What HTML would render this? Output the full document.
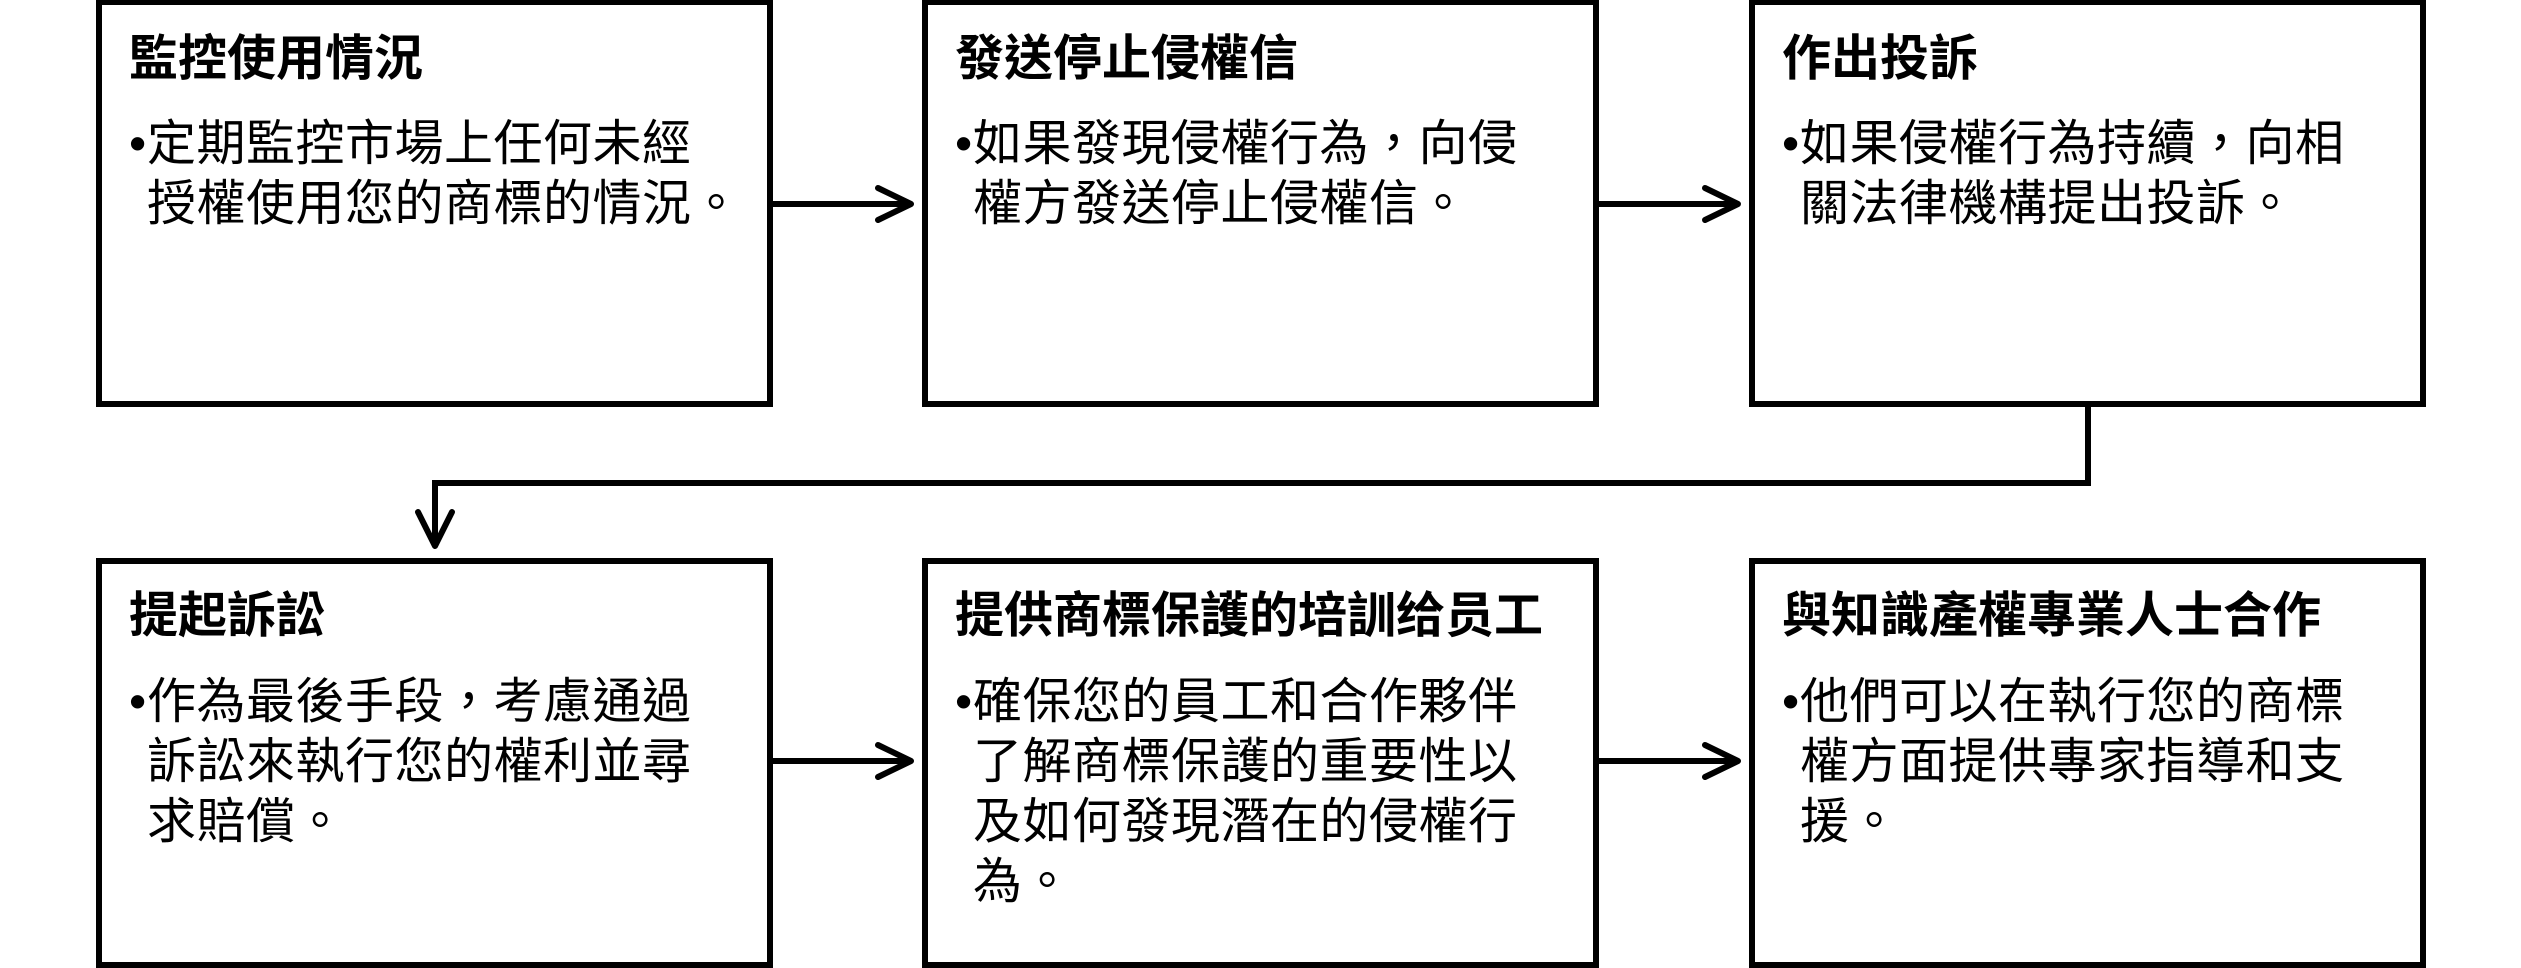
<!DOCTYPE html>
<html><head><meta charset="utf-8"><style>
body{margin:0;width:2521px;height:966px;background:#fff;position:relative;overflow:hidden;font-family:"Liberation Sans","Noto Sans CJK TC",sans-serif;color:#000}
.b{position:absolute;box-sizing:border-box;border:6px solid #000;width:677px}
.t{position:absolute;font-size:49px;line-height:60px;font-weight:bold;white-space:nowrap}
.p{position:absolute;font-size:49px;line-height:60px;white-space:nowrap;letter-spacing:0.5px}
.p span{display:inline-block;width:18px}
svg{position:absolute;left:0;top:0}
</style></head><body>
<div class="b" style="left:96px;top:-1px;height:408px"></div>
<div class="b" style="left:922px;top:-1px;height:408px"></div>
<div class="b" style="left:1749px;top:-1px;height:408px"></div>
<div class="b" style="left:96px;top:558px;height:410px"></div>
<div class="b" style="left:922px;top:558px;height:410px"></div>
<div class="b" style="left:1749px;top:558px;height:410px"></div>

<div class="t" style="left:129px;top:29px">監控使用情況</div>
<div class="p" style="left:129px;top:114px"><span>•</span>定期監控市場上任何未經<br><span></span>授權使用您的商標的情況。</div>
<div class="t" style="left:955px;top:29px">發送停止侵權信</div>
<div class="p" style="left:955px;top:114px"><span>•</span>如果發現侵權行為，向侵<br><span></span>權方發送停止侵權信。</div>
<div class="t" style="left:1782px;top:29px">作出投訴</div>
<div class="p" style="left:1782px;top:114px"><span>•</span>如果侵權行為持續，向相<br><span></span>關法律機構提出投訴。</div>

<div class="t" style="left:129px;top:586px">提起訴訟</div>
<div class="p" style="left:129px;top:672px"><span>•</span>作為最後手段，考慮通過<br><span></span>訴訟來執行您的權利並尋<br><span></span>求賠償。</div>
<div class="t" style="left:955px;top:586px">提供商標保護的培訓给员工</div>
<div class="p" style="left:955px;top:672px"><span>•</span>確保您的員工和合作夥伴<br><span></span>了解商標保護的重要性以<br><span></span>及如何發現潛在的侵權行<br><span></span>為。</div>
<div class="t" style="left:1782px;top:586px">與知識產權專業人士合作</div>
<div class="p" style="left:1782px;top:672px"><span>•</span>他們可以在執行您的商標<br><span></span>權方面提供專家指導和支<br><span></span>援。</div>

<svg width="2521" height="966" viewBox="0 0 2521 966">
<g fill="none" stroke="#000" stroke-width="6" stroke-linecap="round" stroke-linejoin="round">
<line x1="773" y1="204" x2="910" y2="204"/><polyline points="878,188 911,204 878,220"/>
<line x1="1599" y1="204" x2="1737" y2="204"/><polyline points="1705,188 1738,204 1705,220"/>
<line x1="773" y1="761" x2="910" y2="761"/><polyline points="878,745 911,761 878,777"/>
<line x1="1599" y1="761" x2="1737" y2="761"/><polyline points="1705,745 1738,761 1705,777"/>
<polyline stroke-linecap="butt" stroke-linejoin="miter" points="2088,406 2088,483 435,483 435,544"/>
<polyline points="418,512 435,546 452,512"/>
</g></svg>
</body></html>
